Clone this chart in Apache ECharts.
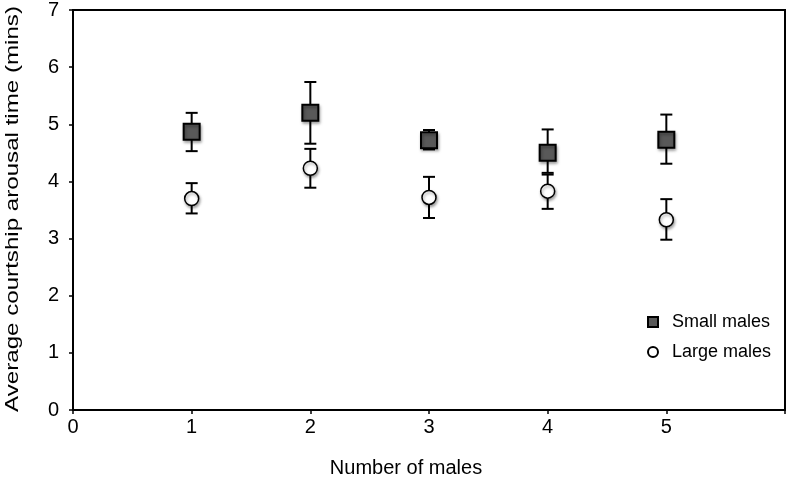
<!DOCTYPE html>
<html>
<head>
<meta charset="utf-8">
<script src="https://cdn.jsdelivr.net/npm/echarts@6/dist/echarts.min.js"></script>
<style>
html,body{margin:0;padding:0;background:#fff;}
#chart{width:788px;height:477px;}
</style>
</head>
<body>
<div id="chart"></div>
<script>
const males = [1, 2, 3, 4, 5];
const xTickLabels = ['0', '1', '2', '3', '4', '5', ''];
const smallMean = [4.87, 5.20, 4.72, 4.50, 4.73];
const smallLow  = [4.53, 4.66, 4.56, 4.15, 4.31];
const smallHigh = [5.20, 5.74, 4.90, 4.91, 5.17];
const largeMean = [3.70, 4.23, 3.72, 3.83, 3.33];
const largeLow  = [3.44, 3.89, 3.36, 3.52, 2.98];
const largeHigh = [3.97, 4.57, 4.08, 4.12, 3.69];
const seriesNames = ['Small males', 'Large males'];
const xTitle = 'Number of males';
const yTitle = 'Average courtship arousal time (mins)';

const FONT = '"Liberation Sans", Arial, Helvetica, sans-serif';

function pts(means) { return males.map((m, i) => [m, means[i]]); }
function errs(lows, highs) { return males.map((m, i) => [m, lows[i], highs[i]]); }

function renderErr(params, api) {
  const x = api.value(0);
  const lo = api.coord([x, api.value(1)]);
  const hi = api.coord([x, api.value(2)]);
  const w = 6;
  const st = { stroke: '#000', lineWidth: 2 };
  return {
    type: 'group',
    children: [
      { type: 'line', shape: { x1: lo[0], y1: lo[1], x2: hi[0], y2: hi[1] }, style: st },
      { type: 'line', shape: { x1: hi[0] - w, y1: hi[1], x2: hi[0] + w, y2: hi[1] }, style: st },
      { type: 'line', shape: { x1: lo[0] - w, y1: lo[1], x2: lo[0] + w, y2: lo[1] }, style: st }
    ]
  };
}

const chart = echarts.init(document.getElementById('chart'), null, { renderer: 'canvas' });
chart.setOption({
  animation: false,
  backgroundColor: '#fff',
  textStyle: { fontFamily: FONT },
  grid: {
    left: 73, right: 3, top: 9, bottom: 67,
    show: true, borderColor: '#000', borderWidth: 2, backgroundColor: 'transparent'
  },
  xAxis: {
    type: 'value', min: 0, max: 6, interval: 1,
    axisLine: { show: true, onZero: false, lineStyle: { color: '#000', width: 2 } },
    axisTick: { show: true, length: 4, lineStyle: { color: '#000', width: 1.5 } },
    axisLabel: {
      color: '#000', fontSize: 20, fontFamily: FONT, margin: 7,
      formatter: v => xTickLabels[Math.round(v)]
    },
    splitLine: { show: false }
  },
  yAxis: {
    type: 'value', min: 0, max: 7, interval: 1,
    axisLine: { show: true, lineStyle: { color: '#000', width: 2 } },
    axisTick: { show: true, length: 4, lineStyle: { color: '#000', width: 1.5 } },
    axisLabel: { color: '#000', fontSize: 20, fontFamily: FONT, margin: 14 },
    splitLine: { show: false }
  },
  legend: {
    orient: 'vertical',
    left: 642, top: 308,
    itemWidth: 10, itemHeight: 10, itemGap: 12,
    textStyle: { color: '#000', fontSize: 18, fontFamily: FONT, padding: [0, 0, 0, 9] },
    data: seriesNames
  },
  graphic: [
    {
      type: 'text', x: 406, y: 468,
      style: { text: xTitle, font: '20px ' + FONT, fill: '#000', textAlign: 'center', textVerticalAlign: 'middle' }
    },
    {
      type: 'text', x: 13, y: 209, rotation: Math.PI / 2, scaleX: 1.27,
      style: { text: yTitle, font: '19px ' + FONT, fill: '#000', textAlign: 'center', textVerticalAlign: 'middle' }
    }
  ],
  series: [
    {
      type: 'custom', name: 'smallErr', renderItem: renderErr,
      data: errs(smallLow, smallHigh), z: 1, silent: true
    },
    {
      type: 'custom', name: 'largeErr', renderItem: renderErr,
      data: errs(largeLow, largeHigh), z: 1, silent: true
    },
    {
      type: 'scatter', name: seriesNames[1], symbol: 'circle', symbolSize: 14, z: 3,
      itemStyle: {
        color: '#fff', borderColor: '#000', borderWidth: 1.5, opacity: 1,
        shadowColor: 'rgba(0,0,0,0.35)', shadowBlur: 3, shadowOffsetX: 1, shadowOffsetY: 2
      },
      data: pts(largeMean)
    },
    {
      type: 'scatter', name: seriesNames[0], symbol: 'rect', symbolSize: 16, z: 4,
      itemStyle: {
        color: '#595959', borderColor: '#000', borderWidth: 2, opacity: 1,
        shadowColor: 'rgba(0,0,0,0.35)', shadowBlur: 3, shadowOffsetX: 1, shadowOffsetY: 2
      },
      data: pts(smallMean)
    }
  ]
});
</script>
</body>
</html>
